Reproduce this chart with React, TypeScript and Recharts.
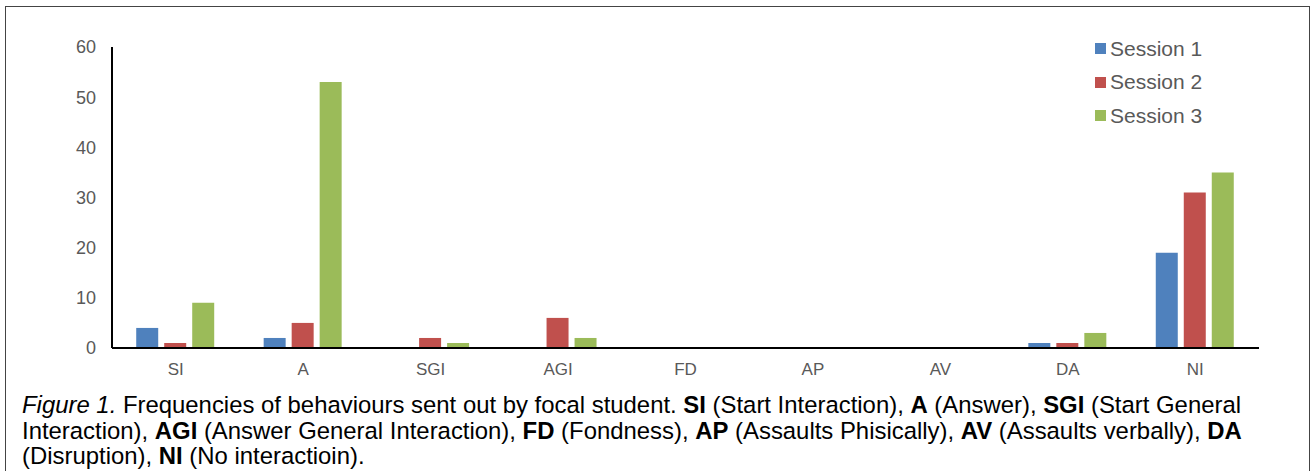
import React from "react"
import { BarChart, Bar, XAxis, YAxis } from "recharts"

const CATEGORIES = ["SI", "A", "SGI", "AGI", "FD", "AP", "AV", "DA", "NI"]
const SESSION_1 = [4, 2, 0, 0, 0, 0, 0, 1, 19]
const SESSION_2 = [1, 5, 2, 6, 0, 0, 0, 1, 31]
const SESSION_3 = [9, 53, 1, 2, 0, 0, 0, 3, 35]
const Y_TICKS = [0, 10, 20, 30, 40, 50, 60]

const SERIES = [
  { key: "s1", name: "Session 1", color: "#4F81BD" },
  { key: "s2", name: "Session 2", color: "#C0504D" },
  { key: "s3", name: "Session 3", color: "#9BBB59" },
]

const data = CATEGORIES.map((c, i) => ({
  name: c,
  s1: SESSION_1[i],
  s2: SESSION_2[i],
  s3: SESSION_3[i],
}))

const FONT = "'Liberation Sans', Arial, sans-serif"

function SessionLegend() {
  return (
    <div style={{ position: "absolute", left: 1095, top: 32, fontFamily: FONT }}>
      {SERIES.map((s) => (
        <div key={s.key} style={{ display: "flex", alignItems: "center", height: 33.5 }}>
          <div style={{ width: 11, height: 11, background: s.color, marginRight: 4 }} />
          <span style={{ fontSize: 21, color: "#595959" }}>{s.name}</span>
        </div>
      ))}
    </div>
  )
}

export default function App() {
  return (
    <div
      style={{
        position: "absolute",
        left: 0,
        top: 0,
        width: 1313,
        height: 471,
        background: "#fff",
        overflow: "hidden",
        fontFamily: FONT,
      }}
    >
      {/* frame */}
      <div
        style={{
          position: "absolute",
          left: 5,
          top: 6,
          width: 1305,
          height: 480,
          border: "1.5px solid #444",
          boxSizing: "border-box",
        }}
      />
      <div style={{ position: "absolute", left: 0, top: 0 }}>
        <BarChart
          width={1313}
          height={400}
          data={data}
          margin={{ top: 47, right: 54, left: 52, bottom: 22 }}
          barCategoryGap="19%"
          barGap={6}
        >
          <XAxis
            dataKey="name"
            axisLine={{ stroke: "#000", strokeWidth: 2 }}
            tickLine={false}
            tickMargin={9}
            height={30}
            tick={{ fill: "#595959", fontSize: 17, fontFamily: FONT }}
          />
          <YAxis
            domain={[0, 60]}
            ticks={Y_TICKS}
            width={60}
            axisLine={{ stroke: "#000", strokeWidth: 2 }}
            tickLine={false}
            tickMargin={10}
            tick={{ fill: "#595959", fontSize: 18, fontFamily: FONT }}
          />
          {SERIES.map((s) => (
            <Bar
              key={s.key}
              dataKey={s.key}
              name={s.name}
              fill={s.color}
              isAnimationActive={false}
            />
          ))}
        </BarChart>
      </div>
      <SessionLegend />
      {/* caption */}
      <div
        style={{
          position: "absolute",
          left: 22,
          top: 392,
          fontSize: 23.9,
          lineHeight: "25.5px",
          color: "#000",
          whiteSpace: "nowrap",
        }}
      >
        <div>
          <i>Figure 1.</i> Frequencies of behaviours sent out by focal student. <b>SI</b> (Start Interaction),{" "}
          <b>A</b> (Answer), <b>SGI</b> (Start General
        </div>
        <div>
          Interaction), <b>AGI</b> (Answer General Interaction), <b>FD</b> (Fondness), <b>AP</b> (Assaults
          Phisically), <b>AV</b> (Assaults verbally), <b>DA</b>
        </div>
        <div>
          (Disruption), <b>NI</b> (No interactioin).
        </div>
      </div>
    </div>
  )
}
